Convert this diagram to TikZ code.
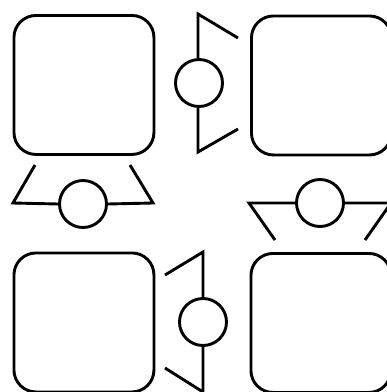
\documentclass[tikz,border=0pt]{standalone}
\begin{document}
\begin{tikzpicture}[x=1pt,y=-1pt,line width=2.9pt,
  panel/.style={draw,rounded corners=22pt,minimum width=140pt,minimum height=139pt,inner sep=0pt,anchor=north west},
  ball/.style={draw,circle,minimum size=47pt,inner sep=0pt},
  arm/.style={draw,line join=miter}]
\useasboundingbox (0,0) rectangle (387,392);
\clip (0,0) rectangle (387,392);
% panels
\node[panel] (tl) at (12.5,14) {};
\node[panel] (tr) at (250,14.5) {};
\node[panel] (bl) at (12.5,251.5) {};
\node[panel] (br) at (249.5,252) {};
% balls
\node[ball] (cl) at (83,204) {};
\node[ball] (ct) at (199,83) {};
\node[ball] (cr) at (320,203) {};
\node[ball] (cb) at (203,322) {};
% left connector
\coordinate (l1) at (35,165);
\coordinate (l2) at (13,203);
\coordinate (l3) at (153,203);
\coordinate (l4) at (130,165);
\draw[arm] (l1) -- (l2) -- (cl.west);
\draw[arm] (cl.east) -- (l3) -- (l4);
% top connector
\coordinate (t1) at (238,38);
\coordinate (t2) at (198,14);
\coordinate (t3) at (198,152);
\coordinate (t4) at (238,129);
\draw[arm] (t1) -- (t2) -- (ct.north -| t2);
\draw[arm] (ct.south -| t3) -- (t3) -- (t4);
% right connector
\coordinate (r1) at (275,240);
\coordinate (r2) at (249,203);
\coordinate (r3) at (391,203);
\coordinate (r4) at (365,240);
\draw[arm] (r1) -- (r2) -- (cr.west);
\draw[arm] (cr.east) -- (r3) -- (r4);
% bottom connector
\coordinate (b1) at (165,275);
\coordinate (b2) at (203,252);
\coordinate (b3) at (203,392);
\coordinate (b4) at (165,368);
\draw[arm] (b1) -- (b2) -- (cb.north);
\draw[arm] (cb.south) -- (b3) -- (b4);
\end{tikzpicture}
\end{document}
